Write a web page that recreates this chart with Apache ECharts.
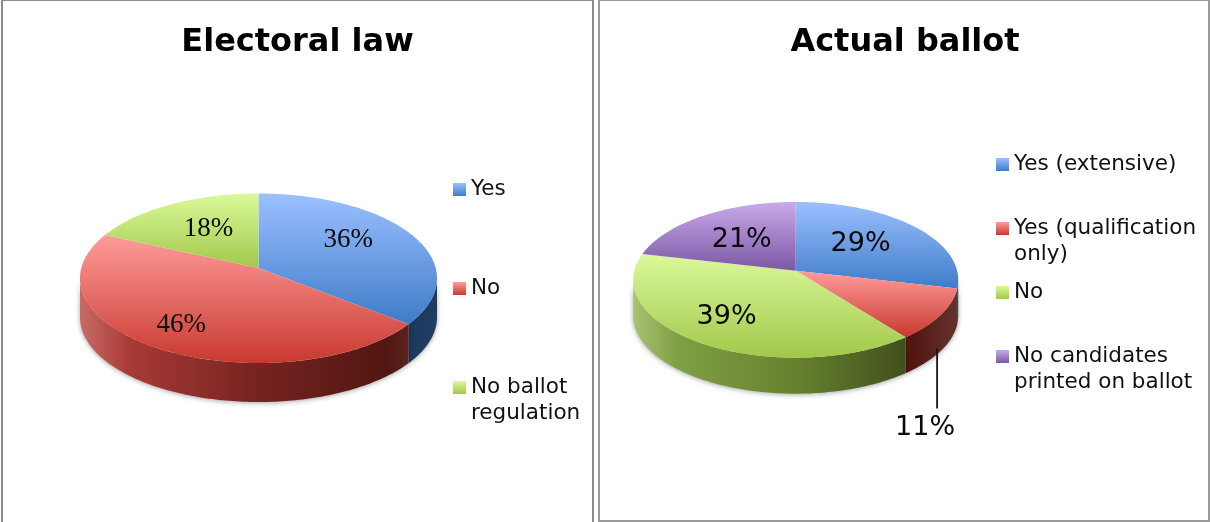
<!DOCTYPE html>
<html>
<head>
<meta charset="utf-8">
<style>html,body{margin:0;padding:0;background:#fff}#c{width:1210px;height:522px}</style>
<script src="https://cdn.jsdelivr.net/npm/echarts@6/dist/echarts.min.js"></script>
</head>
<body>
<div id="c"></div>
<script>
const electoralCategories = ['Yes', 'No', 'No ballot\nregulation'];
const electoralValues = [35.7, 46.1, 18.2];
const ballotCategories = ['Yes (extensive)', 'Yes (qualification\nonly)', 'No', 'No candidates\nprinted on ballot'];
const ballotValues = [28.6, 10.8, 39.2, 21.4];

const PALETTE = {
  blue:   {top: ['#9bc0ff', '#3f7bc8'], wall: ['#6f94c8', '#3f6aa5', '#274a78', '#1a3558', '#1f3d63']},
  red:    {top: ['#ff9c9b', '#c8392f'], wall: ['#c96a67', '#a83a36', '#762320', '#521612', '#66332f']},
  green:  {top: ['#daf99a', '#a2c84a'], wall: ['#aac274', '#7f9f42', '#67822f', '#3f4c1b', '#4a5a25']},
  purple: {top: ['#c8aaea', '#7c58a4'], wall: ['#a98fc8', '#7c5ca0', '#5c4278', '#3c2a52', '#46325e']}
};

const PIES = [
  {
    names: electoralCategories, values: electoralValues, hues: ['blue', 'red', 'green'],
    cx: 258.5, cy: 268, A: 177.2, B: 83.5, P: 0.121, depth: 39, halfW: 178.5,
    labelFont: 'Liberation Serif', labelSize: 27,
    labelOffsets: [[-6, -6], [-16, 10], [6, 2]],
    legendX: 453, legendY: [189.5, 288.5, 387.5]
  },
  {
    names: ballotCategories, values: ballotValues, hues: ['blue', 'red', 'green', 'purple'],
    cx: 795.7, cy: 270.7, A: 161.4, B: 76.8, P: 0.117, depth: 36, halfW: 162.5,
    labelFont: 'DejaVu Sans', labelSize: 27,
    labelOffsets: [[-10, 2], null, [-12, 3], [5, 5]],
    leaderIndex: 1,
    legendX: 996, legendY: [164.5, 228.5, 292.5, 356.5]
  }
];

function project(pie, r, deg) {
  const t = deg * Math.PI / 180;
  const u = r * Math.sin(t), v = -r * Math.cos(t);
  const d = 1 - pie.P * v;
  return [pie.cx + pie.A * u / d, pie.cy + pie.B * v / d];
}

function arcPoints(pie, from, to) {
  const pts = [];
  const n = Math.max(2, Math.ceil(Math.abs(to - from)));
  for (let i = 0; i <= n; i++) pts.push(project(pie, 1, from + (to - from) * i / n));
  return pts;
}

function topGradient(hue) {
  return {type: 'linear', x: 0, y: 0, x2: 0, y2: 1, colorStops: [
    {offset: 0, color: PALETTE[hue].top[0]},
    {offset: 1, color: PALETTE[hue].top[1]}
  ]};
}

function wallGradient(pie, hue) {
  const w = PALETTE[hue].wall;
  const offs = [0, 0.14, 0.5, 0.86, 1];
  return {type: 'linear', global: true,
    x: pie.cx - pie.halfW, y: 0, x2: pie.cx + pie.halfW, y2: 0,
    colorStops: w.map((c, i) => ({offset: offs[i], color: c}))};
}

function makeSeries(pie, idx) {
  const total = pie.values.reduce((a, b) => a + b, 0);
  const before = pie.values.slice(0, idx).reduce((a, b) => a + b, 0);
  const hue = pie.hues[idx];
  return {
    type: 'custom',
    name: pie.names[idx],
    coordinateSystem: 'none',
    silent: true,
    data: [[pie.values[idx]]],
    renderItem: function (params, api) {
      const val = api.value(0);
      const a0 = before / total * 360, a1 = (before + val) / total * 360, mid = (a0 + a1) / 2;
      const children = [];
      const visR = Math.acos(-pie.P) * 180 / Math.PI, visL = 360 - visR;
      const w0 = Math.max(a0, visR), w1 = Math.min(a1, visL);
      if (w1 > w0) {
        const rim = arcPoints(pie, w0, w1);
        const base = rim.map(p => [p[0], p[1] + pie.depth]).reverse();
        children.push({
          type: 'polygon', z2: 1,
          shape: {points: rim.concat(base)},
          style: {fill: wallGradient(pie, hue), shadowBlur: 5, shadowColor: 'rgba(0,0,0,0.35)', shadowOffsetY: 1}
        });
      }
      children.push({
        type: 'polygon', z2: 2,
        shape: {points: [[pie.cx, pie.cy]].concat(arcPoints(pie, a0, a1))},
        style: {fill: topGradient(hue)}
      });
      const text = Math.round(val) + '%';
      const labelStyle = {text: text, fontFamily: pie.labelFont, fontSize: pie.labelSize, fill: '#0a0a0a', align: 'center', verticalAlign: 'middle'};
      if (pie.leaderIndex === idx) {
        const p = project(pie, 1, mid);
        const yStart = p[1] + pie.depth - 2;
        children.push({type: 'line', z2: 3, shape: {x1: p[0] - 4, y1: yStart, x2: p[0] - 4, y2: yStart + 60},
          style: {stroke: '#111', lineWidth: 1.75}});
        children.push({type: 'text', z2: 3, x: p[0] - 16, y: yStart + 79, style: labelStyle});
      } else {
        const c = project(pie, 0.62, mid);
        const off = pie.labelOffsets[idx];
        children.push({type: 'text', z2: 3, x: c[0] + off[0], y: c[1] + off[1], style: labelStyle});
      }
      return {type: 'group', children: children};
    }
  };
}

const series = [];
const legends = [];
PIES.forEach(pie => {
  pie.names.forEach((name, i) => {
    series.push(makeSeries(pie, i));
    const multi = name.indexOf('\n') >= 0;
    legends.push({
      left: pie.legendX,
      top: pie.legendY[i] - (multi ? 39 : 13),
      padding: 0,
      orient: 'vertical',
      selectedMode: false,
      itemWidth: 13,
      itemHeight: 13,
      icon: 'rect',
      formatter: n => (n.indexOf('\n') >= 0 ? '\n' + n : n),
      textStyle: {fontFamily: 'DejaVu Sans', fontSize: 21.5, lineHeight: 26, color: '#111'},
      data: [{name: name, icon: 'rect', itemStyle: {color: topGradient(pie.hues[i]), borderWidth: 0}}]
    });
  });
});

const chart = echarts.init(document.getElementById('c'), null, {renderer: 'canvas'});
chart.setOption({
  animation: false,
  backgroundColor: '#ffffff',
  tooltip: {show: false},
  title: [
    {text: 'Electoral law', left: 297.5, top: 27, padding: 0, textAlign: 'center', textStyle: {fontFamily: 'DejaVu Sans', fontWeight: 'bold', fontSize: 32, color: '#000'}},
    {text: 'Actual ballot', left: 905, top: 27, padding: 0, textAlign: 'center', textStyle: {fontFamily: 'DejaVu Sans', fontWeight: 'bold', fontSize: 32, color: '#000'}}
  ],
  legend: legends,
  graphic: [
    {type: 'rect', silent: true, z: -1, shape: {x: 2, y: 0, width: 591, height: 540}, style: {fill: 'none', stroke: '#8c8c8c', lineWidth: 2}},
    {type: 'rect', silent: true, z: -1, shape: {x: 599, y: 0, width: 610, height: 521}, style: {fill: 'none', stroke: '#9a9a9a', lineWidth: 2}}
  ],
  series: series
});
</script>
</body>
</html>
